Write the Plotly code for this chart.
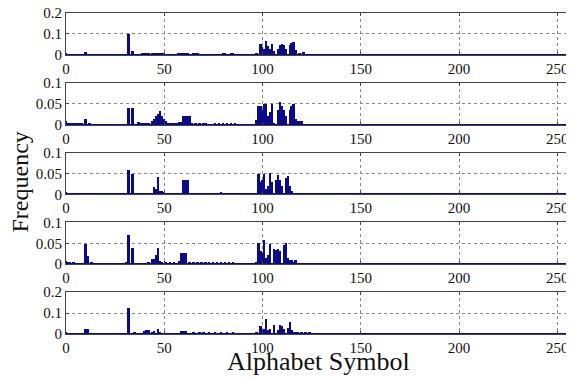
import plotly.graph_objects as go
from plotly.subplots import make_subplots

# ---- data (symbol index -> relative frequency) ----
sym1 = [0, 1, 2, 3, 10, 32, 34, 39, 40, 41, 42, 44, 45, 46, 47, 48, 49, 50, 57, 58, 59, 60, 61, 62,
        65, 66, 67, 80, 81, 84, 85, 97, 99, 100, 101, 102, 103, 104, 105, 106, 108, 109, 110, 111,
        112, 114, 115, 116, 117, 119, 121]
freq1 = [0.006, 0.003, 0.003, 0.003, 0.012, 0.1, 0.02, 0.004, 0.004, 0.004, 0.004, 0.006, 0.008, 0.009,
         0.01, 0.01, 0.008, 0.006, 0.006, 0.008, 0.008, 0.008, 0.008, 0.006,
         0.004, 0.004, 0.004, 0.004, 0.004, 0.004, 0.004, 0.01, 0.05, 0.035, 0.03, 0.065, 0.04, 0.03,
         0.05, 0.02, 0.03, 0.045, 0.05, 0.045, 0.03, 0.045, 0.055, 0.06, 0.025, 0.01, 0.015]

sym2 = [0, 1, 2, 3, 4, 5, 6, 7, 8, 10, 12, 32, 34, 37, 38, 39, 40, 41, 42, 44, 45, 46, 47, 48, 49, 50,
        51, 52, 53, 54, 55, 56, 57, 58, 59, 60, 61, 62, 63, 64, 66, 68, 70, 71, 76, 78, 80, 82, 84, 86,
        97, 98, 99, 100, 101, 102, 103, 104, 105, 106, 108, 109, 110, 111, 112, 114, 115, 116, 117,
        118, 119, 120]
freq2 = [0.008, 0.004, 0.002, 0.002, 0.002, 0.002, 0.002, 0.002, 0.002, 0.015, 0.004, 0.04, 0.04, 0.006,
         0.003, 0.003, 0.003, 0.003, 0.003, 0.01, 0.013, 0.02, 0.025, 0.033, 0.02, 0.015,
         0.01, 0.005, 0.004, 0.004, 0.004, 0.004, 0.004, 0.006, 0.006, 0.02, 0.02, 0.02, 0.02, 0.003,
         0.003, 0.003, 0.003, 0.004, 0.003, 0.003, 0.003, 0.003, 0.004, 0.003,
         0.012, 0.045, 0.045, 0.035, 0.05, 0.05, 0.02, 0.03, 0.05, 0.005, 0.035, 0.055, 0.045, 0.035,
         0.02, 0.035, 0.045, 0.05, 0.015, 0.01, 0.008, 0.008]

sym3 = [0, 1, 10, 31, 32, 34, 45, 46, 47, 48, 49, 50, 51, 53, 55, 57, 59, 60, 61, 62, 63, 65, 67, 69,
        71, 73, 75, 77, 79, 81, 83, 85, 86, 97, 98, 99, 100, 101, 102, 103, 104, 105, 107, 108, 109,
        110, 112, 113, 114, 115, 116, 117]
freq3 = [0.006, 0.003, 0.003, 0.003, 0.06, 0.05, 0.018, 0.015, 0.042, 0.01, 0.01, 0.006, 0.003,
         0.003, 0.003, 0.003, 0.004, 0.035, 0.035, 0.035, 0.003, 0.003, 0.003, 0.005,
         0.003, 0.003, 0.004, 0.003, 0.006, 0.003, 0.003, 0.004, 0.004,
         0.005, 0.05, 0.03, 0.035, 0.05, 0.015, 0.02, 0.053, 0.03, 0.035, 0.048, 0.035,
         0.02, 0.04, 0.045, 0.02, 0.01, 0.005, 0.003]

sym4 = [0, 1, 2, 4, 10, 11, 13, 31, 32, 34, 42, 44, 45, 46, 47, 48, 49, 51, 53, 55, 58, 59, 60, 61,
        63, 65, 67, 69, 71, 73, 75, 77, 79, 81, 83, 85, 97, 98, 99, 100, 101, 102, 103, 104, 106,
        107, 108, 109, 111, 112, 113, 114, 115, 116, 117]
freq4 = [0.006, 0.003, 0.002, 0.002, 0.048, 0.018, 0.003, 0.003, 0.07, 0.037, 0.003, 0.012, 0.012,
         0.02, 0.037, 0.006, 0.003, 0.003, 0.003, 0.003, 0.006, 0.027, 0.027, 0.027,
         0.003, 0.003, 0.003, 0.003, 0.003, 0.003, 0.003, 0.003, 0.003, 0.004, 0.004, 0.003,
         0.005, 0.05, 0.03, 0.025, 0.057, 0.015, 0.02, 0.048, 0.035,
         0.033, 0.036, 0.03, 0.045, 0.05, 0.015, 0.01, 0.008, 0.005, 0.008]

sym5 = [0, 10, 11, 32, 35, 40, 41, 42, 44, 45, 47, 48, 59, 60, 61, 65, 68, 70, 73, 76, 79, 82, 85,
        97, 99, 100, 101, 102, 103, 104, 106, 108, 109, 110, 111, 113, 114, 115, 116, 117, 118, 120,
        122, 124]
freq5 = [0.006, 0.025, 0.025, 0.125, 0.008, 0.015, 0.02, 0.02, 0.01, 0.012, 0.022, 0.005, 0.012,
         0.012, 0.012, 0.004, 0.004, 0.004, 0.004, 0.004, 0.004, 0.004, 0.004,
         0.004, 0.035, 0.02, 0.025, 0.07, 0.02, 0.025, 0.04, 0.02, 0.04, 0.035, 0.025, 0.03, 0.055,
         0.02, 0.01, 0.008, 0.004, 0.004, 0.004, 0.004]

panels = [(sym1, freq1), (sym2, freq2), (sym3, freq3), (sym4, freq4), (sym5, freq5)]
y_max = [0.2, 0.1, 0.1, 0.1, 0.2]
y_ticks = [[0, 0.1, 0.2], [0, 0.05, 0.1], [0, 0.05, 0.1], [0, 0.05, 0.1], [0, 0.1, 0.2]]
y_ticklabels = [["0", "0.1", "0.2"], ["0", "0.05", "0.1"], ["0", "0.05", "0.1"],
                ["0", "0.05", "0.1"], ["0", "0.1", "0.2"]]
x_ticks = [0, 50, 100, 150, 200, 250]
x_label = "Alphabet Symbol"
y_label = "Frequency"

BAR = "#0b0b8a"
FONT = "Liberation Serif"

fig = make_subplots(rows=5, cols=1, vertical_spacing=28 / 321)

for i, (s, f) in enumerate(panels):
    r = i + 1
    fig.add_trace(go.Bar(x=s, y=f, width=1.0, marker=dict(color=BAR, line=dict(width=0)),
                         showlegend=False), row=r, col=1)
    fig.update_xaxes(range=[0, 257], tickvals=x_ticks, ticktext=[str(t) for t in x_ticks],
                     showline=True, linecolor="#444", linewidth=1, mirror="ticks",
                     ticks="inside", ticklen=3, tickcolor="#444", automargin=False,
                     ticklabeloverflow="allow",
                     showgrid=True, gridcolor="#888", griddash="dot", gridwidth=1,
                     zeroline=False, tickfont=dict(family=FONT, size=15, color="#111"),
                     row=r, col=1)
    fig.update_yaxes(range=[0, y_max[i]], tickvals=y_ticks[i], ticktext=y_ticklabels[i],
                     showline=True, linecolor="#444", linewidth=1, mirror="ticks",
                     ticks="inside", ticklen=3, tickcolor="#444", automargin=False,
                     ticklabeloverflow="allow",
                     showgrid=True, gridcolor="#888", griddash="dot", gridwidth=1,
                     zeroline=True, zerolinecolor=BAR, zerolinewidth=2,
                     tickfont=dict(family=FONT, size=15, color="#111"),
                     row=r, col=1)

fig.add_annotation(text=x_label, xref="paper", yref="paper", x=0.5, y=0, yshift=-27,
                   yanchor="middle", showarrow=False,
                   font=dict(family=FONT, size=26, color="#111"))
fig.add_annotation(text=y_label, xref="paper", yref="paper", x=0, xshift=-47, y=0.5, yshift=-9,
                   textangle=-90, xanchor="center", showarrow=False,
                   font=dict(family=FONT, size=24, color="#111"))

fig.update_layout(width=566, height=370, margin=dict(l=58, r=3, t=5, b=44, autoexpand=False),
                  plot_bgcolor="white", paper_bgcolor="white", bargap=0)

fig.write_html("out.html")
